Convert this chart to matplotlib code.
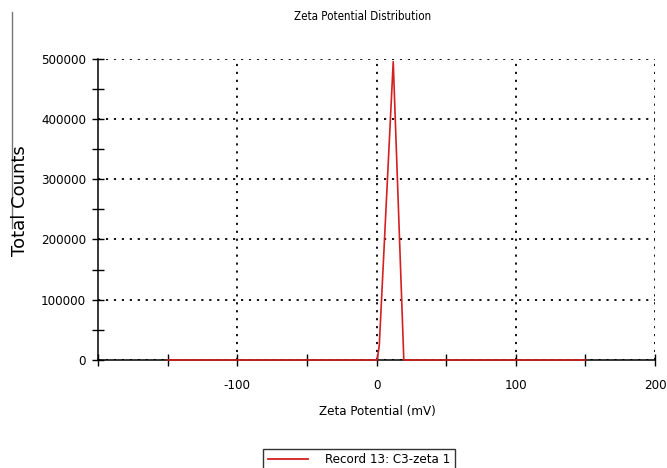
import matplotlib
matplotlib.use("Agg")
import matplotlib.pyplot as plt
from matplotlib.ticker import MultipleLocator
from matplotlib.lines import Line2D

# Zeta potential distribution (mV vs total counts)
zeta_mv = [-150, -100, -50, 0, 0.5, 2, 12, 19.6, 20, 50, 100, 150]
total_counts = [0, 0, 0, 0, 0, 25000, 495000, 0, 0, 0, 0, 0]

x_ticks = [-100, 0, 100, 200]
y_ticks = [0, 100000, 200000, 300000, 400000, 500000]
legend_label = "Record 13: C3-zeta 1"

plt.rcParams["font.family"] = ["DejaVu Sans"]
plt.rcParams["font.stretch"] = "condensed"
plt.rcParams["axes.unicode_minus"] = False

fig = plt.figure(figsize=(6.67, 4.68), dpi=100)
ax = fig.add_axes([0.147, 0.2308, 0.835, 0.644])

ax.plot(zeta_mv, total_counts, color="#d42020", lw=1.2, zorder=5, clip_on=False)

ax.set_xlim(-200, 200)
ax.set_ylim(0, 500000)
ax.set_xticks(x_ticks)
ax.set_yticks(y_ticks)
ax.xaxis.set_minor_locator(MultipleLocator(50))
ax.yaxis.set_minor_locator(MultipleLocator(50000))
ax.tick_params(which="both", direction="inout", length=9, width=1.0,
               colors="black", labelsize=9.5)
ax.tick_params(axis="x", which="major", pad=9)
ax.tick_params(axis="y", which="major", pad=4)
ax.grid(True, which="major", linestyle=(0, (1.2, 3.2)), color="black", lw=1.3)
for s in ("top", "right"):
    ax.spines[s].set_visible(False)
for s in ("left", "bottom"):
    ax.spines[s].set_linewidth(1.1)

fig.text(363 / 667, 1 - 16 / 468, "Zeta Potential Distribution", fontsize=8.3,
         ha="center", va="center")
fig.text(377 / 667, 1 - 412 / 468, "Zeta Potential (mV)", fontsize=9.5,
         ha="center", va="center")
fig.text(20 / 667, 1 - 201 / 468, "Total Counts", fontsize=13, rotation=90,
         ha="center", va="center", fontstretch="normal")

# thin marker line beside the axis label
fig.add_artist(Line2D([12 / 667, 12 / 667], [1 - 12 / 468, 1 - 228 / 468],
                      color="#777777", lw=1.0))

handle = Line2D([], [], color="#d42020", lw=1.3)
leg = fig.legend([handle], [legend_label], loc="upper center",
                 bbox_to_anchor=(359 / 667, 1 - 442 / 468), frameon=True,
                 fancybox=False, edgecolor="black", fontsize=9.5,
                 handlelength=3.0, borderpad=0.35, handletextpad=1.3)
leg.get_frame().set_linewidth(1.0)

fig.savefig("out.png", dpi=100)
